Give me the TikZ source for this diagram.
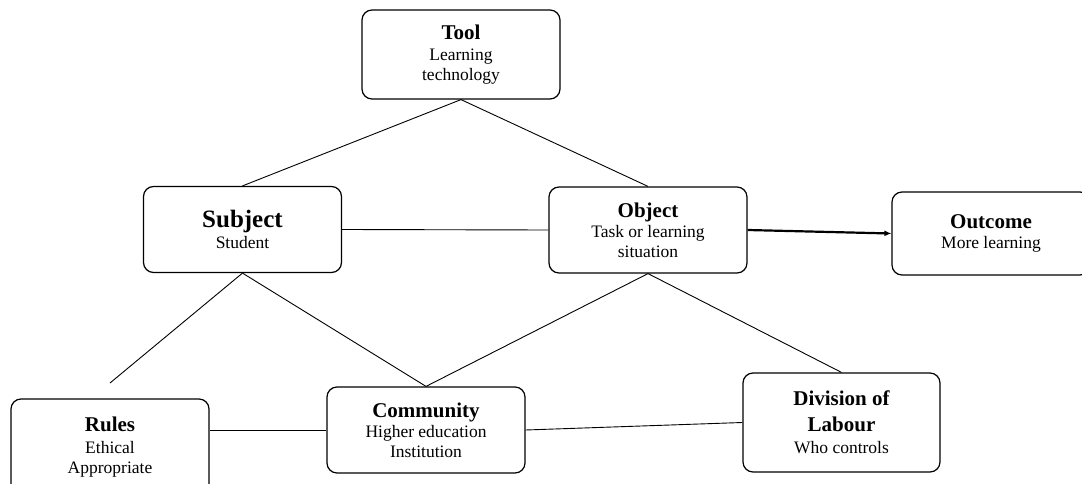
\documentclass[tikz,border=0pt]{standalone}
\usepackage{fontspec}
\setmainfont{Liberation Serif}
\usetikzlibrary{arrows.meta}
\newcommand{\boxtitle}[1]{{\fontsize{21}{25}\selectfont\bfseries #1}}
\tikzset{
  box/.style = {draw, line width=1.2pt, rounded corners=10pt, align=center,
    inner sep=0pt, minimum width=198pt, minimum height=86pt,
    font=\fontsize{17.5}{20}\selectfont},
  link/.style = {line width=0.9pt}
}
\begin{document}
\begin{tikzpicture}[x=1pt, y=-1pt]
      \useasboundingbox (0,0) rectangle (1082,484);
      \node[box, minimum height=89pt] (tool) at (461,54.5) {\boxtitle{Tool}\\[1pt] Learning\\ technology};
      \node[box] (subject) at (242.5,229.5) {{\fontsize{25}{28}\selectfont\bfseries Subject}\\[1pt] Student};
      \node[box] (object) at (648,230) {\boxtitle{Object}\\ Task or learning\\ situation};
      \node[box, minimum height=83pt] (outcome) at (991,233.5) {\boxtitle{Outcome}\\ More learning};
      \node[box, minimum height=96pt] (rules) at (110,447) {\boxtitle{Rules}\\[2pt] Ethical\\ Appropriate};
      \node[box] (community) at (426,430) {\boxtitle{Community}\\ Higher education\\ Institution};
      \node[box, minimum width=197pt, minimum height=99pt] (division) at (841.5,422.5) {\boxtitle{Division of}\\[6pt] \boxtitle{Labour}\\[2pt] Who controls};
      \coordinate (rulesend) at (110,383);
      \draw[link] (tool.south) -- (subject.north);
      \draw[link] (tool.south) -- (object.north);
      \draw[link] (subject.east) -- (object.west);
      \draw[line width=2.2pt, -{Latex[length=7pt,width=6pt]}] (object.east) -- (outcome.west);
      \draw[link] (subject.south) -- (rulesend);
      \draw[link] (subject.south) -- (community.north);
      \draw[link] (object.south) -- (community.north);
      \draw[link] (object.south) -- (division.north);
      \draw[link] (community.west) -- (community.west -| rules.east);
      \draw[link] (community.east) -- (division.west);
    \end{tikzpicture}
\end{document}
